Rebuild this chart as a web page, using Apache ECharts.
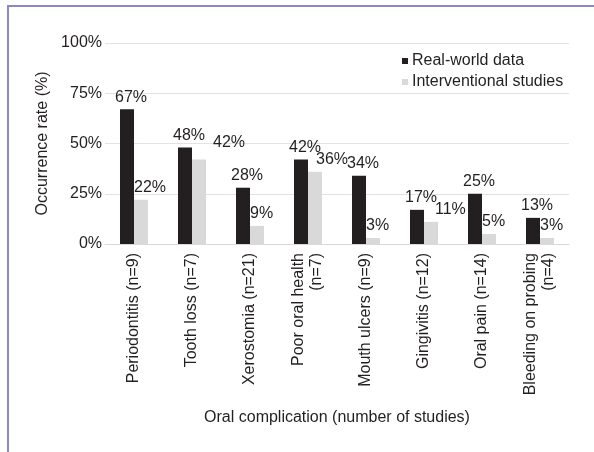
<!DOCTYPE html>
<html>
<head>
<meta charset="utf-8">
<script src="https://cdn.jsdelivr.net/npm/echarts@6/dist/echarts.min.js"></script>
<style>
  html, body { margin: 0; padding: 0; background: #fff; }
  #wrap { position: relative; width: 594px; height: 452px; }
  #chart { position: absolute; left: 0; top: 0; width: 594px; height: 452px; }
  /* figure frame, only top and left edges are visible in the crop */
  #frame { position: absolute; left: 7px; top: 5px; right: 0; bottom: 0;
           border-left: 2px solid #8a88c9; border-top: 2px solid #8a88c9; pointer-events: none; }
</style>
</head>
<body>
<div id="wrap">
  <div id="chart"></div>
  <div id="frame"></div>
</div>
<script>
  // 数据
  const categories = ['Periodontitis (n=9)', 'Tooth loss (n=7)', 'Xerostomia (n=21)', 'Poor oral health\n(n=7)',
    'Mouth ulcers (n=9)', 'Gingivitis (n=12)', 'Oral pain (n=14)', 'Bleeding on probing\n(n=4)'];
  const realWorld = [67, 48, 28, 42, 34, 17, 25, 13];
  const interventional = [22, 42, 9, 36, 3, 11, 5, 3];
  const yTicks = [0, 25, 50, 75, 100];

  // label nudges for the gray series where the original moved labels to avoid overlap
  const grayNudge = { 1: [14, -5], 3: [1, 0], 5: [4, 0] };

  const font = 'Liberation Sans, Arial, sans-serif';
  const ink = '#231f20';

  const myChart = echarts.init(document.getElementById('chart'));
  const option = {
    animation: false,
    textStyle: { fontFamily: font },
    grid: { left: 105, right: 25, top: 43, bottom: 208 },
    legend: {
      orient: 'vertical',
      left: 397,
      top: 48,
      itemWidth: 6,
      itemHeight: 6,
      itemGap: 5,
      icon: 'rect',
      textStyle: { fontSize: 16, color: ink, fontFamily: font, padding: [0, 0, 0, -1] },
      data: ['Real-world data', 'Interventional studies']
    },
    xAxis: {
      type: 'category',
      data: categories,
      name: 'Oral complication (number of studies)',
      nameLocation: 'middle',
      nameGap: 166,
      nameTextStyle: { fontSize: 16, color: ink },
      axisTick: { show: false },
      axisLine: { lineStyle: { color: '#d9d9d9', width: 1 } },
      axisLabel: { rotate: 90, fontSize: 16, color: ink, margin: 9, interval: 0, lineHeight: 18 }
    },
    yAxis: {
      type: 'value',
      min: yTicks[0],
      max: yTicks[yTicks.length - 1],
      interval: 25,
      name: 'Occurrence rate (%)',
      nameLocation: 'middle',
      nameGap: 49,
      nameTextStyle: { fontSize: 16, color: ink },
      axisLine: { show: false },
      axisTick: { show: false },
      splitLine: { lineStyle: { color: '#e3e3e3', width: 1 } },
      axisLabel: { fontSize: 16, color: ink, margin: 3, formatter: '{value}%' }
    },
    series: [
      {
        name: 'Real-world data',
        type: 'bar',
        data: realWorld,
        barWidth: 14,
        barGap: '0%',
        itemStyle: { color: ink },
        label: { show: true, position: 'top', distance: 4, offset: [4, 0], fontSize: 16, color: ink, formatter: '{c}%' }
      },
      {
        name: 'Interventional studies',
        type: 'bar',
        data: interventional.map((v, i) => grayNudge[i]
          ? { value: v, label: { offset: grayNudge[i] } }
          : v),
        barWidth: 14,
        itemStyle: { color: '#d9d9da' },
        label: { show: true, position: 'top', distance: 4, align: 'left', offset: [-7, 0], fontSize: 16, color: ink, formatter: '{c}%' }
      }
    ]
  };
  myChart.setOption(option);
</script>
</body>
</html>
